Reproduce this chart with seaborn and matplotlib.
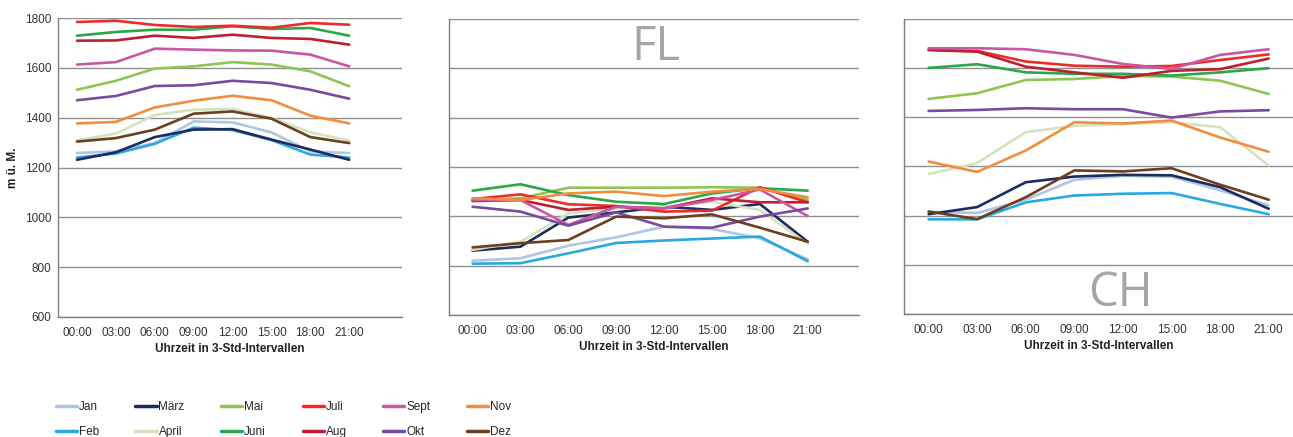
import numpy as np
import pandas as pd
import matplotlib
matplotlib.use('Agg')
import matplotlib.pyplot as plt
import seaborn as sns

# Monate und Uhrzeiten
months = ['Jan', 'Feb', 'März', 'April', 'Mai', 'Juni',
          'Juli', 'Aug', 'Sept', 'Okt', 'Nov', 'Dez']
times = ['00:00', '03:00', '06:00', '09:00', '12:00', '15:00', '18:00', '21:00']
colors = ['#aec6e4', '#29a9e1', '#1d2b5e', '#d5e2bd', '#8cc653', '#2aa64b',
          '#ee2b2b', '#bf1e2e', '#c957a6', '#7a4a9e', '#f28d3f', '#6c3f1f']

# Werte in m ü. M., je Monat eine Zeile
links_hoehe = [
    [1258, 1265, 1298, 1385, 1381, 1341, 1265, 1258],  # Jan
    [1240, 1256, 1295, 1360, 1350, 1310, 1252, 1240],  # Feb
    [1231, 1261, 1322, 1352, 1354, 1312, 1272, 1231],  # März
    [1309, 1336, 1411, 1432, 1435, 1399, 1341, 1308],  # April
    [1512, 1548, 1597, 1606, 1623, 1613, 1586, 1526],  # Mai
    [1729, 1744, 1753, 1753, 1767, 1756, 1760, 1729],  # Juni
    [1784, 1789, 1772, 1764, 1769, 1761, 1780, 1773],  # Juli
    [1709, 1710, 1729, 1720, 1733, 1720, 1716, 1693],  # Aug
    [1613, 1623, 1677, 1673, 1670, 1669, 1653, 1606],  # Sept
    [1470, 1487, 1527, 1530, 1548, 1539, 1512, 1476],  # Okt
    [1377, 1383, 1441, 1468, 1488, 1470, 1408, 1377],  # Nov
    [1304, 1318, 1352, 1416, 1425, 1396, 1322, 1298],  # Dez
]
fl_hoehe = [
    [820, 830, 881, 915, 958, 949, 911, 826],
    [808, 810, 850, 892, 902, 910, 918, 818],
    [861, 877, 995, 1016, 1039, 1026, 1050, 897],
    [864, 897, 1012, 1032, 1039, 1059, 1026, 888],
    [1064, 1073, 1116, 1116, 1116, 1118, 1116, 1066],
    [1104, 1130, 1086, 1059, 1050, 1093, 1114, 1104],
    [1070, 1089, 1049, 1042, 1019, 1023, 1118, 1057],
    [1062, 1066, 1026, 1039, 1032, 1073, 1057, 1057],
    [1066, 1066, 965, 1039, 1032, 1066, 1109, 1001],
    [1039, 1019, 962, 1016, 958, 954, 999, 1032],
    [1073, 1066, 1093, 1100, 1082, 1100, 1111, 1077],
    [874, 891, 904, 999, 992, 1008, 954, 897],
]
ch_hoehe = [
    [1015, 1011, 1065, 1146, 1162, 1159, 1103, 1042],
    [985, 985, 1054, 1082, 1089, 1092, 1048, 1006],
    [1006, 1035, 1136, 1159, 1166, 1164, 1116, 1028],
    [1169, 1214, 1340, 1365, 1373, 1380, 1360, 1204],
    [1475, 1498, 1552, 1556, 1568, 1566, 1549, 1495],
    [1601, 1616, 1583, 1577, 1577, 1570, 1583, 1600],
    [1674, 1670, 1627, 1610, 1606, 1609, 1633, 1656],
    [1674, 1667, 1606, 1583, 1561, 1589, 1596, 1639],
    [1681, 1681, 1677, 1654, 1617, 1597, 1654, 1677],
    [1426, 1430, 1437, 1433, 1433, 1399, 1424, 1429],
    [1220, 1178, 1265, 1380, 1375, 1387, 1318, 1260],
    [1017, 986, 1075, 1184, 1180, 1193, 1126, 1065],
]

def to_long(values):
    rows = []
    for m, vals in zip(months, values):
        for i, v in enumerate(vals):
            rows.append({'Monat': m, 'pos': i, 'Hoehe': v})
    return pd.DataFrame(rows)

sns.set_style('white')
plt.rcParams['font.family'] = ['Liberation Sans', 'DejaVu Sans']

fig = plt.figure(figsize=(12.93, 4.37), dpi=100)
ax1 = fig.add_axes([0.0451, 0.2746, 0.2656, 0.6842])
ax2 = fig.add_axes([0.3470, 0.2792, 0.3173, 0.6773])
ax3 = fig.add_axes([0.6994, 0.2815, 0.3006, 0.6750])

panels = [(ax1, links_hoehe, (-0.48, 8.35)),
          (ax2, fl_hoehe, (-0.5, 8.07)),
          (ax3, ch_hoehe, (-0.5, 7.5))]

for k, (ax, vals, xl) in enumerate(panels):
    df = to_long(vals)
    sns.lineplot(data=df, x='pos', y='Hoehe', hue='Monat', hue_order=months,
                 palette=colors, linewidth=1.9, errorbar=None, ax=ax,
                 legend=(k == 0), zorder=3)
    ax.set_ylim(600, 1800)
    ax.set_xlim(*xl)
    ax.set_yticks(np.arange(600, 1801, 200))
    ax.yaxis.grid(True, color='#8f8f8f', linewidth=1.0)
    ax.set_axisbelow(True)
    ax.set_xticks(range(len(times)))
    ax.set_xticklabels(times)
    ax.set_xlabel('Uhrzeit in 3-Std-Intervallen', fontsize=8.5, fontweight='bold',
                  color='#222222', labelpad=3)
    ax.set_ylabel('')
    for s in ['top', 'right']:
        ax.spines[s].set_visible(False)
    for s in ['left', 'bottom']:
        ax.spines[s].set_color('#7f7f7f')
        ax.spines[s].set_linewidth(1.0)
    ax.tick_params(axis='x', length=0, pad=7, labelsize=8.5, labelcolor='#333333')
    ax.tick_params(axis='y', length=0, pad=5, labelsize=8.5, labelcolor='#333333')
    if k > 0:
        ax.set_yticklabels([])
        ax.set_xticks(np.arange(-0.5, len(times), 1.0), minor=True)
        ax.tick_params(axis='x', which='minor', length=4, direction='out',
                       color='#7f7f7f', width=1.0)

ax1.set_ylabel('m ü. M.', fontsize=8.5, fontweight='bold', color='#222222', labelpad=4)

ax2.text(0.505, 0.905, 'FL', transform=ax2.transAxes, ha='center', va='center',
         fontsize=34, color='#a6a6a6', family=['Open Sans', 'DejaVu Sans'])
ax3.text(0.557, 0.07, 'CH', transform=ax3.transAxes, ha='center', va='center',
         fontsize=34, color='#a6a6a6', family=['Open Sans', 'DejaVu Sans'])

handles, labels = ax1.get_legend_handles_labels()
ax1.get_legend().remove()
for h in handles:
    h.set_linewidth(2.5)
fig.legend(handles, labels, ncol=6, loc='upper left',
           bbox_to_anchor=(0.043, 0.083), frameon=False, fontsize=8.5,
           handlelength=1.8, handletextpad=0.15, columnspacing=3.1,
           labelspacing=1.1, borderpad=0, borderaxespad=0)

fig.savefig('out.png', dpi=100)
